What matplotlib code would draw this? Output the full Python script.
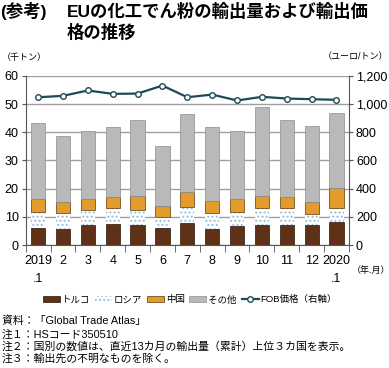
import matplotlib
matplotlib.use("Agg")
import matplotlib.pyplot as plt
import numpy as np

plt.rcParams['font.family'] = ['Liberation Sans', 'Noto Sans CJK JP', 'DejaVu Sans']
plt.rcParams['hatch.linewidth'] = 0.9

months = ["2019\n.1", "2", "3", "4", "5", "6", "7", "8", "9", "10", "11", "12", "2020\n.1"]
turkey = [6.1, 5.7, 7.0, 7.3, 7.0, 6.1, 7.7, 5.8, 6.8, 7.0, 7.0, 7.0, 8.3]
russia = [5.7, 5.8, 5.4, 5.7, 5.4, 3.9, 5.9, 5.7, 5.0, 6.0, 6.3, 3.9, 4.7]
china = [4.4, 3.6, 3.8, 4.0, 5.0, 3.8, 5.1, 4.3, 4.7, 4.4, 3.7, 4.2, 7.2]
other = [26.9, 23.7, 24.4, 24.7, 26.8, 21.3, 27.9, 25.9, 24.1, 31.7, 27.5, 27.2, 26.6]
fob = [1048, 1058, 1096, 1072, 1074, 1131, 1048, 1067, 1025, 1051, 1039, 1034, 1030]

x = np.arange(len(months))
w = 0.57

fig = plt.figure(figsize=(3.89, 3.68), dpi=100)
ax = fig.add_axes([0.066, 0.334, 0.831, 0.46])

b1 = ax.bar(x, turkey, w, color='#5f3218', edgecolor='#2a1408', linewidth=0.5, zorder=3)
bottom = np.array(turkey)
b2 = ax.bar(x, russia, w, bottom=bottom, color='white', edgecolor='#8fbcd8',
            hatch='....', linewidth=0, zorder=3)
bottom = bottom + np.array(russia)
b3 = ax.bar(x, china, w, bottom=bottom, color='#e39b2c', edgecolor='#5a3a10', linewidth=0.5, zorder=3)
bottom = bottom + np.array(china)
b4 = ax.bar(x, other, w, bottom=bottom, color='#b9b9b9', edgecolor='#8c8c8c', linewidth=0.5, zorder=3)

ax.set_xlim(-0.5, len(months) - 0.5)
ax.set_ylim(0, 60)
ax.set_yticks(range(0, 61, 10))
ax.yaxis.grid(True, color='#a0a0a0', linewidth=1.0, zorder=0)
ax.set_xticks(x)
ax.set_xticklabels(months, fontsize=9, linespacing=1.7)
ax.set_xticks(np.arange(-0.5, len(months), 1), minor=True)
ax.tick_params(axis='x', which='major', length=0, pad=7)
ax.tick_params(axis='x', which='minor', length=5, color='#555555', direction='out')
ax.tick_params(axis='y', labelsize=9, length=3, color='#555555', pad=2)
for s in ['top', 'right']:
    ax.spines[s].set_visible(False)
ax.spines['left'].set_color('#555555')
ax.spines['bottom'].set_color('#555555')

ax2 = ax.twinx()
ax2.set_ylim(0, 1200)
ax2.set_yticks(range(0, 1201, 200))
ax2.set_yticklabels([f"{v:,}" for v in range(0, 1201, 200)])
ax2.tick_params(axis='y', labelsize=9, length=3, color='#555555', pad=2)
for s in ['top', 'left', 'bottom']:
    ax2.spines[s].set_visible(False)
ax2.spines['right'].set_color('#555555')
line, = ax2.plot(x, fob, color='#1d4a5a', linewidth=1.6, marker='o', markersize=4,
                 markerfacecolor='white', markeredgecolor='#1d4a5a', markeredgewidth=1.0, zorder=4)

fig.text(0.0, 0.97, "(参考)", fontsize=12.5, fontweight='bold', va='center', ha='left')
fig.text(0.172, 0.97, "EUの化工でん粉の輸出量および輸出価", fontsize=12.5, fontweight='bold',
         va='center', ha='left')
fig.text(0.172, 0.913, "格の推移", fontsize=12.5, fontweight='bold', va='center', ha='left')

fig.text(0.005, 0.845, "（千トン）", fontsize=6.5, va='center', ha='left')
fig.text(0.998, 0.845, "（ユーロ/トン）", fontsize=6.5, va='center', ha='right')
fig.text(0.903, 0.264, "（年.月）", fontsize=6.5, va='center', ha='left')

handles = [b1, b2, b3, b4, line]
labels = ["トルコ", "ロシア", "中国", "その他", "FOB価格（右軸）"]
fig.legend(handles, labels, loc='center', bbox_to_anchor=(0.488, 0.185), ncol=5, frameon=False,
           fontsize=6.8, handlelength=1.8, handleheight=0.6, handletextpad=0.2, columnspacing=0.5)

notes = ["資料：「Global Trade Atlas」",
         "注１：HSコード350510",
         "注２：国別の数値は、直近13カ月の輸出量（累計）上位３カ国を表示。",
         "注３：輸出先の不明なものを除く。"]
note_y = [0.128, 0.092, 0.058, 0.025]
for t, yy in zip(notes, note_y):
    fig.text(0.005, yy, t, fontsize=7.8, va='center', ha='left')

fig.savefig("out.png", dpi=100)
